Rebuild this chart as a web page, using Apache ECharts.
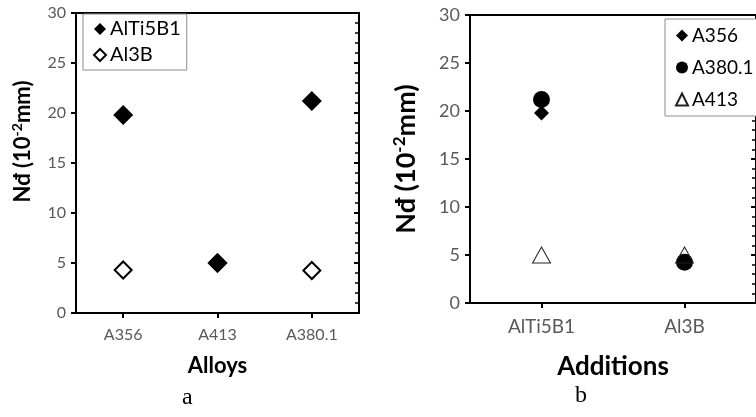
<!DOCTYPE html>
<html>
<head>
<meta charset="utf-8">
<script src="https://cdn.jsdelivr.net/npm/echarts@6/dist/echarts.min.js"></script>
<style>
  html, body { margin: 0; padding: 0; background: #fff; }
  #chart { width: 756px; height: 417px; }
</style>
</head>
<body>
<div id="chart"></div>
<script>
// Nd values (10^-2 mm) per alloy, for each grain-refiner addition
const alloys = ['A356', 'A413', 'A380.1'];
const additions = ['AlTi5B1', 'Al3B'];
const ndAlTi5B1 = [19.8, 5.0, 21.2];
const ndAl3B = [4.3, 5.0, 4.25];
const yTicks = { min: 0, max: 30, interval: 5 };
const legendOrderB = ['A356', 'A380.1', 'A413'];

const FONT = 'Lato';
const LABEL_COLOR = '#595959';

// Panel b: same measurements grouped by addition, one series per alloy
const byAlloy = {};
alloys.forEach((a, i) => { byAlloy[a] = [ndAlTi5B1[i], ndAl3B[i]]; });

// Rotated axis title with a superscript exponent; an optional leading gap
// slides the title along the axis.
function yNameText(gap) {
  return (gap ? '{g|}' : '') + '{t|Nđ (10}{s|-2}{t|mm)}';
}
function yNameStyle(size, gap) {
  return {
    fontFamily: FONT, fontWeight: 'bold', color: '#000',
    rich: {
      g: { width: gap || 0 },
      t: { fontFamily: FONT, fontWeight: 'bold', fontSize: size, color: '#000', lineHeight: size + 4 },
      s: { fontFamily: FONT, fontWeight: 'bold', fontSize: Math.round(size * 0.62), color: '#000', verticalAlign: 'top', lineHeight: size + 4, padding: [0, 0, size * 0.45, 0] }
    }
  };
}

function valueAxes(gridIndex, labelSize, nameSize, nameGap, shift) {
  return [
    {
      type: 'value', gridIndex, min: yTicks.min, max: yTicks.max, interval: yTicks.interval,
      name: yNameText(shift), nameLocation: 'middle', nameGap, nameRotate: 90,
      nameTextStyle: yNameStyle(nameSize, shift),
      axisLine: { show: true, lineStyle: { color: '#000', width: 2 } },
      axisTick: { show: true, inside: false, length: 5, lineStyle: { color: '#000', width: 2 } },
      axisLabel: { fontFamily: FONT, fontSize: labelSize, color: LABEL_COLOR, margin: 10 },
      splitLine: { show: false }
    },
    {
      type: 'value', gridIndex, min: yTicks.min, max: yTicks.max, interval: yTicks.interval,
      axisLine: { show: false },
      axisTick: { show: true, inside: true, length: 5, lineStyle: { color: '#000', width: 2 } },
      minorTick: { show: true, splitNumber: 5, length: 4, lineStyle: { color: '#000', width: 1.5 } },
      axisLabel: { show: false },
      splitLine: { show: false }
    }
  ];
}

function categoryAxes(gridIndex, cats, labelSize, name, nameSize, nameGap) {
  return [
    {
      type: 'category', gridIndex, data: cats, boundaryGap: true,
      name, nameLocation: 'middle', nameGap,
      nameTextStyle: { fontFamily: FONT, fontWeight: 'bold', fontSize: nameSize, color: '#000' },
      axisLine: { show: true, lineStyle: { color: '#000', width: 2 } },
      axisTick: { show: true, alignWithLabel: true, inside: false, length: 5, lineStyle: { color: '#000', width: 2 } },
      axisLabel: { fontFamily: FONT, fontSize: labelSize, color: LABEL_COLOR, margin: 14 },
      splitLine: { show: false }
    },
    {
      type: 'category', gridIndex, data: cats, boundaryGap: true,
      axisLine: { show: false },
      axisTick: { show: true, alignWithLabel: true, inside: true, length: 5, lineStyle: { color: '#000', width: 2 } },
      axisLabel: { show: false },
      splitLine: { show: false }
    }
  ];
}

const chart = echarts.init(document.getElementById('chart'), null, { renderer: 'canvas' });

const option = {
  animation: false,
  backgroundColor: '#fff',
  grid: [
    { left: 76, top: 13, width: 283, height: 300, show: true, borderColor: '#000', borderWidth: 2, backgroundColor: 'transparent' },
    { left: 470, top: 15, width: 294, height: 288, show: true, borderColor: '#000', borderWidth: 2, backgroundColor: 'transparent' }
  ],
  xAxis: [
    ...categoryAxes(0, alloys, 16, 'Alloys', 22, 42),
    ...categoryAxes(1, additions, 19, 'Additions', 26, 51)
  ],
  yAxis: [
    ...valueAxes(0, 16, 22, 40, 43),
    ...valueAxes(1, 18, 27, 48, 0)
  ],
  legend: [
    {
      orient: 'vertical', left: 83, top: 14,
      data: ['AlTi5B1', 'Al3B'],
      backgroundColor: '#fff', borderColor: '#8c8c8c', borderWidth: 1,
      padding: [5, 6, 5, 10], itemGap: 6, itemWidth: 12, itemHeight: 12,
      textStyle: { fontFamily: FONT, fontSize: 20, color: '#000', padding: [0, 0, 0, -1] }
    },
    {
      orient: 'vertical', left: 665, top: 19,
      data: legendOrderB,
      backgroundColor: '#fff', borderColor: '#8c8c8c', borderWidth: 1,
      padding: [7, 20, 7, 10], itemGap: 13, itemWidth: 12, itemHeight: 12,
      textStyle: { fontFamily: FONT, fontSize: 19, color: '#000', padding: [0, 0, 0, -1] }
    }
  ],
  series: [
    {
      name: 'Al3B', type: 'scatter', xAxisIndex: 0, yAxisIndex: 0, z: 2,
      symbol: 'diamond', symbolSize: 17, data: ndAl3B,
      itemStyle: { color: 'rgba(255,255,255,0)', borderColor: '#000', borderWidth: 2, opacity: 1 }
    },
    {
      name: 'AlTi5B1', type: 'scatter', xAxisIndex: 0, yAxisIndex: 0, z: 3,
      symbol: 'diamond', symbolSize: 20, data: ndAlTi5B1,
      itemStyle: { color: '#000', opacity: 1 }
    },
    {
      name: 'A356', type: 'scatter', xAxisIndex: 2, yAxisIndex: 2, z: 2,
      symbol: 'diamond', symbolSize: 15, data: byAlloy['A356'],
      itemStyle: { color: '#000', opacity: 1 }
    },
    {
      name: 'A380.1', type: 'scatter', xAxisIndex: 2, yAxisIndex: 2, z: 3,
      symbol: 'circle', symbolSize: 17, data: byAlloy['A380.1'],
      itemStyle: { color: '#000', opacity: 1 }
    },
    {
      name: 'A413', type: 'scatter', xAxisIndex: 2, yAxisIndex: 2, z: 4,
      symbol: 'triangle', symbolSize: [18, 16], data: byAlloy['A413'],
      itemStyle: { color: 'rgba(255,255,255,0)', borderColor: '#222', borderWidth: 1, opacity: 1 }
    }
  ],
  graphic: [
    { type: 'text', left: 182, top: 386, style: { text: 'a', font: '24px "Liberation Serif"', fill: '#000' } },
    { type: 'text', left: 575, top: 384, style: { text: 'b', font: '24px "Liberation Serif"', fill: '#000' } }
  ]
};

chart.setOption(option);
</script>
</body>
</html>
